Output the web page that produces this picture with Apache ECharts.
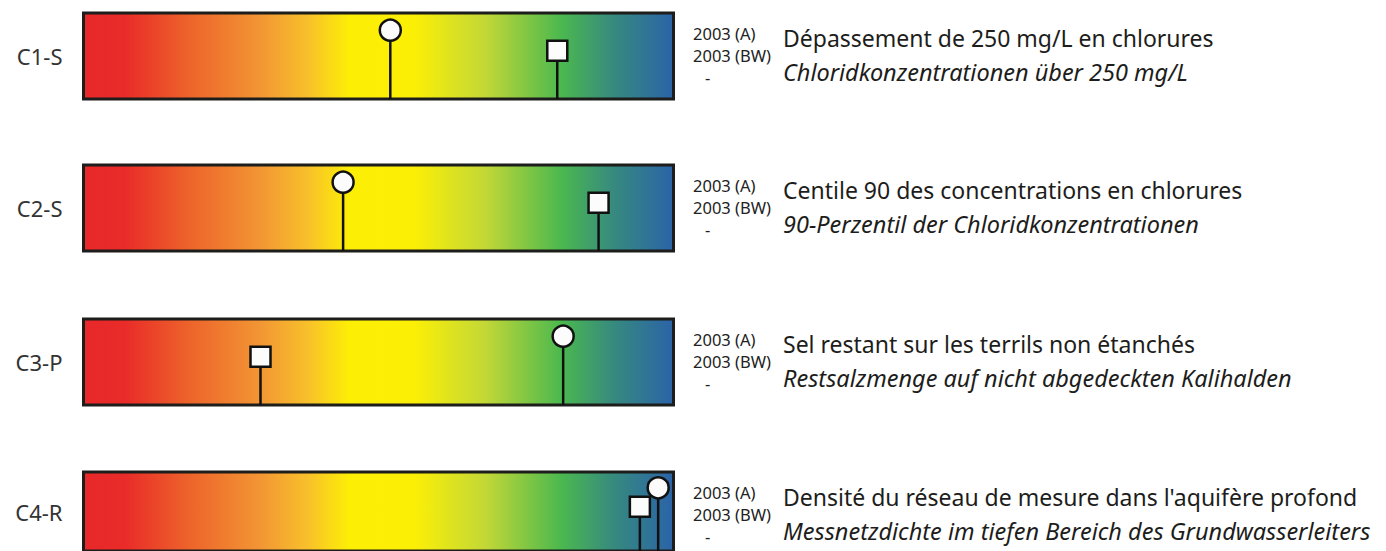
<!DOCTYPE html>
<html>
<head>
<meta charset="utf-8">
<script src="https://cdn.jsdelivr.net/npm/echarts@6/dist/echarts.min.js"></script>
<style>
  html, body { margin: 0; padding: 0; background: #fff; }
  #main { width: 1386px; height: 551px; }
</style>
</head>
<body>
<div id="main"></div>
<script>
// indicator codes, left of each bar
var codes = ['C1-S', 'C2-S', 'C3-P', 'C4-R'];
// position on the scale (0 = red, 100 = blue)
var valuesA = [52, 44, 81.3, 97.4];   // 2003 (A), circle
var valuesBW = [80.3, 87.3, 30, 94.3];  // 2003 (BW), square
var legendLines = ['2003 (A)', '2003 (BW)', '-'];
var titlesFr = [
  'Dépassement de 250 mg/L en chlorures',
  'Centile 90 des concentrations en chlorures',
  'Sel restant sur les terrils non étanchés',
  "Densité du réseau de mesure dans l'aquifère profond"
];
var titlesDe = [
  'Chloridkonzentrationen über 250 mg/L',
  '90-Perzentil der Chloridkonzentrationen',
  'Restsalzmenge auf nicht abgedeckten Kalihalden',
  'Messnetzdichte im tiefen Bereich des Grundwasserleiters'
];

var FONT = 'Noto Sans';
var rowTop = [13, 165, 319, 472];

// red -> yellow -> green -> blue scale
function scaleGradient() {
  return new echarts.graphic.LinearGradient(0, 0, 1, 0, [
    { offset: 0, color: '#e8282a' },
    { offset: 0.07, color: '#e92b29' },
    { offset: 0.18, color: '#ed642b' },
    { offset: 0.3, color: '#f29634' },
    { offset: 0.38, color: '#f8c02b' },
    { offset: 0.45, color: '#fdee05' },
    { offset: 0.56, color: '#fcef06' },
    { offset: 0.68, color: '#c3d836' },
    { offset: 0.81, color: '#4bb84f' },
    { offset: 0.9, color: '#36897f' },
    { offset: 1, color: '#2b63a8' }
  ]);
}

function renderMarker(params, api) {
  var x = api.value(0);
  var kind = api.value(1); // 0 circle, 1 square
  var top = api.coord([x, kind ? 0.56 : 0.8]);
  var base = api.coord([x, 0]);
  var head;
  if (kind) {
    head = { type: 'rect', shape: { x: top[0] - 10, y: top[1] - 10, width: 20, height: 20 },
      style: { fill: '#fcfcfc', stroke: '#111', lineWidth: 2.5 } };
  } else {
    head = { type: 'circle', shape: { cx: top[0], cy: top[1], r: 10.5 },
      style: { fill: '#fcfcfc', stroke: '#111', lineWidth: 2.5 } };
  }
  return {
    type: 'group',
    children: [
      { type: 'line', shape: { x1: top[0], y1: top[1], x2: base[0], y2: base[1] },
        style: { stroke: '#111', lineWidth: 2.5 } },
      head
    ]
  };
}

var grids = [], xAxes = [], yAxes = [], series = [], titles = [];
codes.forEach(function (code, i) {
  grids.push({
    left: 83.5, width: 590, top: rowTop[i], height: 86,
    show: true, backgroundColor: scaleGradient(),
    borderColor: '#1d1d1b', borderWidth: 3
  });
  xAxes.push({ gridIndex: i, type: 'value', min: 0, max: 100, show: false });
  yAxes.push({
    gridIndex: i, type: 'value', min: 0, max: 1,
    name: code, nameLocation: 'middle', nameRotate: 0, nameGap: 21,
    nameTextStyle: { fontFamily: FONT, fontSize: 22, color: '#333' },
    axisLine: { show: false }, axisTick: { show: false },
    axisLabel: { show: false }, splitLine: { show: false }
  });
  series.push({
    type: 'custom', xAxisIndex: i, yAxisIndex: i,
    renderItem: renderMarker, clip: false, silent: true,
    data: [[valuesA[i], 0], [valuesBW[i], 1]]
  });
  titles.push({
    left: 688, top: rowTop[i] + 4,
    text: legendLines[0] + '\n' + legendLines[1] + '\n{d|' + legendLines[2] + '}',
    textStyle: { fontFamily: FONT, fontSize: 16.5, fontWeight: 'normal', color: '#222', lineHeight: 22,
      rich: { d: { fontFamily: FONT, fontSize: 16.5, color: '#222', lineHeight: 22, padding: [1, 0, 0, 12] } } }
  });
  titles.push({
    left: 778, top: rowTop[i] + 6,
    text: titlesFr[i], subtext: titlesDe[i], itemGap: 6,
    textStyle: { fontFamily: FONT, fontSize: 23, lineHeight: 28, fontWeight: 'normal', color: '#1d1d1b' },
    subtextStyle: { fontFamily: FONT, fontSize: 23.5, lineHeight: 28, fontStyle: 'italic', color: '#1d1d1b' }
  });
});

var chart = echarts.init(document.getElementById('main'), null, { renderer: 'svg' });
chart.setOption({
  backgroundColor: '#fff',
  animation: false,
  title: titles,
  grid: grids,
  xAxis: xAxes,
  yAxis: yAxes,
  series: series
});
</script>
</body>
</html>
